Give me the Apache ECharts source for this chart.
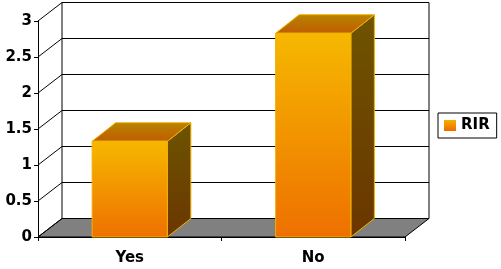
<!DOCTYPE html>
<html>
<head>
<meta charset="utf-8">
<script src="https://cdn.jsdelivr.net/npm/echarts@6/dist/echarts.min.js"></script>
<style>html,body{margin:0;padding:0;background:#fff}#c{width:501px;height:269px}</style>
</head>
<body>
<div id="c"></div>
<script>
var categories = ['Yes', 'No'];
var rirValues = [1.33, 2.83];
var yTicks = [0, 0.5, 1, 1.5, 2, 2.5, 3];
var seriesName = 'RIR';

var DX = 24, DY = -18.5;
var FONT = 'DejaVu Sans';

var frontGrad = new echarts.graphic.LinearGradient(0, 0, 0, 1, [
  {offset: 0, color: '#F6B800'}, {offset: 1, color: '#EE7000'}]);
var sideGrad = new echarts.graphic.LinearGradient(0, 0, 0, 1, [
  {offset: 0, color: '#6E5400'}, {offset: 1, color: '#6A3600'}]);
var topGrad = new echarts.graphic.LinearGradient(0, 0, 0, 1, [
  {offset: 0, color: '#B88400'}, {offset: 1, color: '#C05C00'}]);
var legendGrad = new echarts.graphic.LinearGradient(0, 0, 0, 1, [
  {offset: 0, color: '#F6B000'}, {offset: 1, color: '#EE6A00'}]);

var chart = echarts.init(document.getElementById('c'), null, {renderer: 'canvas'});

function frameItem(params, api) {
  var cs = params.coordSys;
  var left = cs.x, right = cs.x + cs.width;
  var y0 = api.coord([0, 0])[1];
  var yTop = api.coord([0, yTicks[yTicks.length - 1]])[1];
  var children = [];
  children.push({
    type: 'polygon',
    shape: {points: [[left, y0], [right, y0], [right + DX, y0 + DY], [left + DX, y0 + DY]]},
    style: {fill: '#808080', stroke: '#000', lineWidth: 1}
  });
  yTicks.forEach(function (v) {
    var y = api.coord([0, v])[1];
    children.push({
      type: 'line',
      shape: {x1: left + DX, y1: y + DY, x2: right + DX, y2: y + DY},
      style: {stroke: '#000', lineWidth: 1}
    });
    children.push({
      type: 'line',
      shape: {x1: left, y1: y, x2: left + DX, y2: y + DY},
      style: {stroke: '#000', lineWidth: 1}
    });
  });
  children.push({
    type: 'line',
    shape: {x1: left + DX, y1: yTop + DY, x2: left + DX, y2: y0 + DY},
    style: {stroke: '#000', lineWidth: 1}
  });
  children.push({
    type: 'line',
    shape: {x1: right + DX, y1: yTop + DY, x2: right + DX, y2: y0 + DY},
    style: {stroke: '#000', lineWidth: 1}
  });
  return {type: 'group', children: children};
}

function barItem(params, api) {
  var idx = api.value(0);
  var val = api.value(1);
  var topPt = api.coord([idx, val]);
  var basePt = api.coord([idx, 0]);
  var w = api.size([1, 0])[0] * 0.41;
  var x0 = topPt[0] - w / 2, x1 = topPt[0] + w / 2;
  var yt = topPt[1], yb = basePt[1];
  var bdx = 23.5, bdy = -18.5;
  var edge = '#F2B200';
  return {
    type: 'group',
    children: [
      {
        type: 'polygon',
        shape: {points: [[x1, yt], [x1 + bdx, yt + bdy], [x1 + bdx, yb + bdy], [x1, yb]]},
        style: {fill: sideGrad, stroke: edge, lineWidth: 1}
      },
      {
        type: 'polygon',
        shape: {points: [[x0, yt], [x0 + bdx, yt + bdy], [x1 + bdx, yt + bdy], [x1, yt]]},
        style: {fill: topGrad, stroke: edge, lineWidth: 1}
      },
      {
        type: 'rect',
        shape: {x: x0, y: yt, width: w, height: yb - yt},
        style: {fill: frontGrad, stroke: edge, lineWidth: 1}
      }
    ]
  };
}

chart.setOption({
  animation: false,
  backgroundColor: '#fff',
  grid: {left: 38, right: 96, top: 21, bottom: 32},
  legend: {
    left: 438, top: 113, orient: 'vertical',
    data: [{name: seriesName, icon: 'rect', itemStyle: {color: legendGrad}}],
    itemWidth: 12, itemHeight: 11, itemGap: 5,
    borderColor: '#000', borderWidth: 1, padding: [5, 7, 5, 6],
    textStyle: {fontFamily: FONT, fontWeight: 'bold', fontSize: 15, color: '#000', padding: [1, 0, 0, 0]},
    selectedMode: false
  },
  xAxis: {
    type: 'category',
    data: categories,
    axisLine: {lineStyle: {color: '#000', width: 1}},
    axisTick: {show: true, length: 4, lineStyle: {color: '#000'}},
    axisLabel: {fontFamily: FONT, fontWeight: 'bold', fontSize: 15, color: '#000', margin: 14},
    splitLine: {show: false}
  },
  yAxis: {
    type: 'value', min: 0, max: 3, interval: 0.5,
    axisLine: {show: true, lineStyle: {color: '#000', width: 1}},
    axisTick: {show: true, length: 4, lineStyle: {color: '#000'}},
    axisLabel: {fontFamily: FONT, fontWeight: 'bold', fontSize: 15, color: '#000', margin: 6},
    splitLine: {show: false}
  },
  series: [
    {
      type: 'custom', name: 'frame', silent: true, z: 1,
      renderItem: frameItem,
      data: [[0, 0]],
      encode: {x: 0, y: 1}
    },
    {
      type: 'custom', name: seriesName, z: 3,
      itemStyle: {color: legendGrad},
      renderItem: barItem,
      data: categories.map(function (c, i) { return [i, rirValues[i]]; }),
      encode: {x: 0, y: 1}
    }
  ]
});
</script>
</body>
</html>
